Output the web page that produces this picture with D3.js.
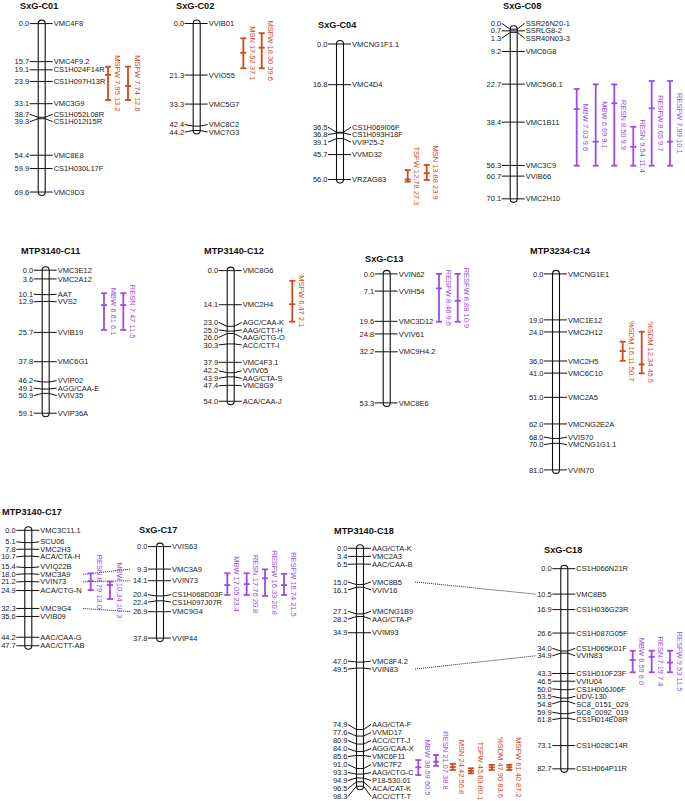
<!DOCTYPE html>
<html>
<head>
<meta charset="utf-8">
<script src="https://cdn.jsdelivr.net/npm/d3@7"></script>
<style>
  body { margin: 0; background: #fff; }
  text { font-family: 'Liberation Sans', Arial, sans-serif; }
</style>
</head>
<body>
<svg id="chart"></svg>
<script>
// marker positions (cM) and names per linkage group
const c01Pos = [0.0, 15.7, 19.1, 23.9, 33.1, 38.7, 39.3, 54.4, 59.9, 69.6]
const c01Names = ['VMC4F8', 'VMC4F9.2', 'CS1H024F14R', 'CS1H097H13R', 'VMC3G9', 'CS1H052L08R', 'CS1H012I15R', 'VMC8E8', 'CS1H030L17F', 'VMC9D3']
const c02Pos = [0.0, 21.3, 33.3, 42.4, 44.2]
const c02Names = ['VVIB01', 'VVIO55', 'VMC5G7', 'VMC8C2', 'VMC7G3']
const c04Pos = [0.0, 16.8, 36.5, 36.8, 39.1, 45.7, 56.0]
const c04Names = ['VMCNG1F1.1', 'VMC4D4', 'CS1H069I06F', 'CS1H093H18F', 'VVIP25-2', 'VVMD32', 'VRZAG83']
const c08Pos = [0.0, 0.7, 1.3, 9.2, 22.7, 38.4, 56.3, 60.7, 70.1]
const c08Names = ['SSR26N20-1', 'SSRLG8-2', 'SSR40N03-3', 'VMC6G8', 'VMC5G6.1', 'VMC1B11', 'VMC3C9', 'VVIB66', 'VMC2H10']
const c11Pos = [0.0, 3.6, 10.1, 12.9, 25.7, 37.8, 46.2, 49.1, 50.9, 59.1]
const c11Names = ['VMC3E12', 'VMC2A12', 'AAT', 'VVS2', 'VVIB19', 'VMC6G1', 'VVIP02', 'AGG/CAA-E', 'VVIV35', 'VVIP36A']
const c12Pos = [0.0, 14.1, 23.0, 25.0, 26.0, 30.3, 37.9, 42.2, 43.9, 47.4, 54.0]
const c12Names = ['VMC8G6', 'VMC2H4', 'AGC/CAA-K', 'AAG/CTT-H', 'AAG/CTG-O', 'ACC/CTT-I', 'VMC4F3.1', 'VVIV05', 'AAG/CTA-S', 'VMC8G9', 'ACA/CAA-J']
const c13Pos = [0.0, 7.1, 19.6, 24.8, 32.2, 53.3]
const c13Names = ['VVIN62', 'VVIH54', 'VMC3D12', 'VVIV61', 'VMC9H4.2', 'VMC8E6']
const c14Pos = [0.0, 19.0, 24.0, 36.0, 41.0, 51.0, 62.0, 68.0, 70.0, 81.0]
const c14Names = ['VMCNG1E1', 'VMC1E12', 'VMC2H12', 'VMC2H5', 'VMC6C10', 'VMC2A5', 'VMCNG2E2A', 'VVIS70', 'VMCNG1G1.1', 'VVIN70']
const m17Pos = [0.0, 5.1, 7.8, 10.7, 15.4, 18.0, 21.2, 24.9, 32.3, 35.6, 44.2, 47.7]
const m17Names = ['VMC3C11.1', 'SCU06', 'VMC2H3', 'ACA/CTA-H', 'VVIQ22B', 'VMC3A9', 'VVIN73', 'ACA/CTG-N', 'VMC9G4', 'VVIB09', 'AAC/CAA-G', 'AAC/CTT-AB']
const s17Pos = [0.0, 9.3, 14.1, 20.4, 22.4, 26.9, 37.8]
const s17Names = ['VVIS63', 'VMC3A9', 'VVIN73', 'CS1H068D03F', 'CS1H097J07R', 'VMC9G4', 'VVIP44']
const m18Pos = [0.0, 3.4, 6.5, 15.0, 16.1, 27.1, 28.2, 34.9, 47.0, 49.5, 74.9, 77.6, 80.9, 84.0, 85.6, 91.0, 93.3, 94.9, 96.5, 98.3]
const m18Names = ['AAG/CTA-K', 'VMC2A3', 'AAC/CAA-B', 'VMC8B5', 'VVIV16', 'VMCNG1B9', 'AAG/CTA-P', 'VVIM93', 'VMC8F4.2', 'VVIN83', 'AAG/CTA-F', 'VVMD17', 'ACC/CTT-J', 'AGG/CAA-X', 'VMC6F11', 'VMC7F2', 'AAG/CTG-C', 'P18-530.01', 'ACA/CAT-K', 'ACC/CTT-T']
const s18Pos = [0.0, 10.5, 16.9, 26.6, 34.0, 34.9, 43.3, 46.5, 50.0, 53.5, 54.8, 59.9, 61.8, 73.1, 82.7]
const s18Names = ['CS1H066N21R', 'VMC8B5', 'CS1H036G23R', 'CS1H087G05F', 'CS1H065K01F', 'VVIN83', 'CS1H010F23F', 'VVIU04', 'CS1H006J06F', 'UDV-130', 'SC8_0151_029', 'SC8_0092_019', 'CS1H014E08R', 'CS1H028C14R', 'CS1H064P11R']

// QTL intervals
const qtlChrom = ['SxG-C01', 'SxG-C01', 'SxG-C02', 'SxG-C02', 'SxG-C04', 'SxG-C04',
  'SxG-C08', 'SxG-C08', 'SxG-C08', 'SxG-C08', 'SxG-C08', 'SxG-C08',
  'MTP3140-C11', 'MTP3140-C11', 'MTP3140-C12', 'SxG-C13', 'SxG-C13', 'MTP3234-C14', 'MTP3234-C14',
  'MTP3140-C17', 'MTP3140-C17', 'SxG-C17', 'SxG-C17', 'SxG-C17', 'SxG-C17',
  'MTP3140-C18', 'MTP3140-C18', 'MTP3140-C18', 'MTP3140-C18', 'MTP3140-C18', 'MTP3140-C18',
  'SxG-C18', 'SxG-C18', 'SxG-C18']
const qtlTrait = ['MSFW', 'MSFW', 'MSN', 'MSFW', 'TSFW', 'MSN',
  'MBW', 'MBW', 'RESN', 'RESN', 'RESFW', 'RESFW',
  'MBW', 'RESN', 'MSFW', 'RESFW', 'RESFW', '%SDM', '%SDM',
  'RESN', 'MBW', 'MBW', 'RESN', 'RESFW', 'RESFW',
  'MBW', 'RESN', 'MSN', 'TSFW', '%SDM', 'MSFW',
  'MBW', 'RESN', 'RESFW']
const qtlStats = ['7.95 13.2', '7.74 12.6', '17.52 37.1', '18.30 39.6', '12.78 27.3', '13.88 23.9',
  '7.03 9.6', '6.69 9.1', '8.50 9.9', '9.54 11.4', '8.05 9.7', '7.99 10.1',
  '6.61 6.1', '7.47 11.5', '6.47 2.1', '8.46 9.6', '8.88 10.9', '16.11 50.7', '12.34 45.5',
  '8.79 13.0', '10.34 10.3', '17.05 23.4', '17.76 20.8', '16.33 20.8', '16.74 21.5',
  '38.59 60.5', '21.07 38.8', '24.42 56.8', '45.63 80.1', '47.90 83.6', '61.40 87.2',
  '6.59 8.0', '7.19 7.4', '9.53 11.5']
const qtlStart = [17.8, 17.8, 6.1, 4.0, 52.1, 50.0,
  24.7, 22.8, 22.8, 40.3, 21.4, 21.4,
  9.5, 9.5, 4.2, 0.0, 0.0, 28.0, 23.9,
  17.8, 21.2, 11.0, 11.0, 9.4, 11.3,
  87.5, 85.4, 89.1, 90.9, 89.5, 89.5,
  33.9, 33.9, 33.9]
const qtlEnd = [31.6, 31.6, 18.5, 18.5, 56.9, 56.2,
  56.4, 56.4, 56.4, 56.4, 56.4, 56.4,
  24.7, 24.7, 21.1, 19.8, 19.8, 35.9, 41.1,
  24.7, 28.4, 20.0, 20.0, 20.4, 20.0,
  93.7, 89.9, 91.6, 93.0, 91.6, 91.6,
  42.8, 42.8, 42.8]
const qtlPeak = [21.2, 25.8, 12.1, 10.0, 56.0, 53.4,
  33.0, 46.5, 30.6, 48.6, 32.7, 46.5,
  14.4, 14.4, 13.9, 6.0, 11.1, 31.9, 37.4,
  21.0, 22.6, 15.9, 15.5, 13.1, 15.9,
  90.5, 88.2, 90.4, 92.0, 90.5, 90.5,
  37.7, 36.4, 38.8]
const purpleTraits = ['MBW', 'RESN', 'RESFW']

// shared markers joined by dotted lines
const linkFrom = ['MTP3140-C17', 'MTP3140-C17', 'MTP3140-C17', 'MTP3140-C18', 'MTP3140-C18']
const linkTo = ['SxG-C17', 'SxG-C17', 'SxG-C17', 'SxG-C18', 'SxG-C18']
const linkMarker = ['VMC3A9', 'VVIN73', 'VMC9G4', 'VMC8B5', 'VVIN83']

/// layout ////////////////////////////////
const width = 685
const height = 801
const cmPx = 2.42
const red = '#d4471f'
const purple = '#9a4cec'

const chromosomes = [
  { id: 'SxG-C01', pos: c01Pos, names: c01Names, x: 41.7, top: 23.6, tx: 20, ty: 9 },
  { id: 'SxG-C02', pos: c02Pos, names: c02Names, x: 196.7, top: 23.5, tx: 176, ty: 9 },
  { id: 'SxG-C04', pos: c04Pos, names: c04Names, x: 340, top: 44, tx: 318, ty: 28 },
  { id: 'SxG-C08', pos: c08Pos, names: c08Names, x: 513.7, top: 29.2, tx: 503, ty: 9 },
  { id: 'MTP3140-C11', pos: c11Pos, names: c11Names, x: 45.7, top: 270.2, tx: 21, ty: 254 },
  { id: 'MTP3140-C12', pos: c12Pos, names: c12Names, x: 230.7, top: 270.6, tx: 204, ty: 254 },
  { id: 'SxG-C13', pos: c13Pos, names: c13Names, x: 386.7, top: 273.9, tx: 365, ty: 262 },
  { id: 'MTP3234-C14', pos: c14Pos, names: c14Names, x: 556, top: 273.9, tx: 530, ty: 254 },
  { id: 'MTP3140-C17', pos: m17Pos, names: m17Names, x: 28.3, top: 530.3, tx: 2, ty: 515 },
  { id: 'SxG-C17', pos: s17Pos, names: s17Names, x: 160, top: 546.6, tx: 139, ty: 533 },
  { id: 'MTP3140-C18', pos: m18Pos, names: m18Names, x: 360, top: 548.3, tx: 334, ty: 534, gap: 8 },
  { id: 'SxG-C18', pos: s18Pos, names: s18Names, x: 564.3, top: 568.7, tx: 544, ty: 553 }
]
const qtlX = [108, 128, 243.3, 261.7, 407.7, 426.7,
  576.7, 595.7, 614.3, 633.3, 651.7, 670,
  104, 123.3, 292.3, 439, 457.7, 622.7, 641.7,
  90.7, 110, 227.3, 246.7, 265, 284,
  418.3, 436, 452.7, 471, 491.7, 509.3,
  632.7, 651.7, 670]

const svg = d3
  .select('#chart')
  .attr('width', width)
  .attr('height', height)
  .attr('viewBox', [0, 0, width, height])

// push overlapping label positions apart, keeping clusters centred
function spreadLabels(ys, gap) {
  let groups = ys.map((y, i) => ({ first: i, n: 1, sum: y }))
  let merged = true
  while (merged) {
    merged = false
    for (let i = 0; i < groups.length - 1; i++) {
      const a = groups[i]
      const b = groups[i + 1]
      const aTop = a.sum / a.n - (a.n - 1) * gap / 2
      const bTop = b.sum / b.n - (b.n - 1) * gap / 2
      if (aTop + a.n * gap > bTop + 0.01) {
        a.n += b.n
        a.sum += b.sum
        groups.splice(i + 1, 1)
        merged = true
        break
      }
    }
  }
  const out = []
  groups.forEach(g => {
    const t = g.sum / g.n - (g.n - 1) * gap / 2
    for (let k = 0; k < g.n; k++) out.push(t + k * gap)
  })
  return out
}

const linkLayer = svg.append('g')
const chromLayer = svg.append('g')
const qtlLayer = svg.append('g')

const byId = {}

/// chromosomes ////////////////////////////////
chromosomes.forEach(c => {
  const len = d3.max(c.pos)
  const y = d3.scaleLinear().domain([0, len]).range([c.top, c.top + len * cmPx])
  const ys = c.pos.map(y)
  const ly = spreadLabels(ys, c.gap || 7.5)
  c.y = y
  c.labelY = {}
  c.names.forEach((n, i) => { c.labelY[n] = ly[i] })
  byId[c.id] = c

  const g = chromLayer.append('g')

  g.append('text')
    .attr('x', c.tx)
    .attr('y', c.ty)
    .attr('font-size', 9.2)
    .attr('font-weight', 'bold')
    .attr('fill', '#111')
    .text(c.id)

  g.append('rect')
    .attr('x', c.x - 3.5)
    .attr('y', y(0) - 3.5)
    .attr('width', 7)
    .attr('height', y(len) - y(0) + 7)
    .attr('rx', 3.5)
    .attr('fill', '#fff')
    .attr('stroke', '#111')
    .attr('stroke-width', 1.1)

  const markers = c.pos.map((p, i) => ({ p, name: c.names[i], y: ys[i], ly: ly[i] }))

  g.selectAll('.tick')
    .data(markers)
    .join('path')
    .attr('class', 'tick')
    .attr('d', d => `M${c.x - 12},${d.ly}L${c.x - 3.5},${d.y}L${c.x + 3.5},${d.y}L${c.x + 11},${d.ly}`)
    .attr('fill', 'none')
    .attr('stroke', '#111')
    .attr('stroke-width', 1)

  g.selectAll('.pos')
    .data(markers)
    .join('text')
    .attr('class', 'pos')
    .attr('x', c.x - 12.5)
    .attr('y', d => d.ly)
    .attr('dy', '0.35em')
    .attr('text-anchor', 'end')
    .attr('font-size', 7.5)
    .attr('fill', '#222')
    .text(d => d.p.toFixed(1))

  g.selectAll('.name')
    .data(markers)
    .join('text')
    .attr('class', 'name')
    .attr('x', c.x + 12)
    .attr('y', d => d.ly)
    .attr('dy', '0.35em')
    .attr('font-size', 7.5)
    .attr('fill', '#222')
    .text(d => d.name)
})

/// dotted links between maps ////////////////////////////////
linkMarker.forEach((m, i) => {
  const a = byId[linkFrom[i]]
  const b = byId[linkTo[i]]
  linkLayer.append('line')
    .attr('x1', a.x + 55)
    .attr('y1', a.labelY[m])
    .attr('x2', b.x - 29)
    .attr('y2', b.labelY[m])
    .attr('stroke', '#222')
    .attr('stroke-width', 1)
    .attr('stroke-dasharray', '1,1')
})

/// QTL bars ////////////////////////////////
qtlChrom.forEach((id, i) => {
  const c = byId[id]
  const x = qtlX[i]
  const y0 = c.y(qtlStart[i])
  const y1 = c.y(qtlEnd[i])
  const yp = c.y(qtlPeak[i])
  const col = purpleTraits.includes(qtlTrait[i]) ? purple : red
  const g = qtlLayer.append('g').attr('stroke', col).attr('stroke-width', 1.8)

  g.append('line').attr('x1', x).attr('x2', x).attr('y1', y0).attr('y2', y1)
  ;[y0, yp, y1].forEach(v => {
    g.append('line').attr('x1', x - 3).attr('x2', x + 3).attr('y1', v).attr('y2', v)
  })

  qtlLayer.append('text')
    .attr('transform', `translate(${x + 6.5},${(y0 + y1) / 2}) rotate(90)`)
    .attr('text-anchor', 'middle')
    .attr('font-size', 7.5)
    .attr('fill', col)
    .text(qtlTrait[i] + ' ' + qtlStats[i])
})
</script>
</body>
</html>
